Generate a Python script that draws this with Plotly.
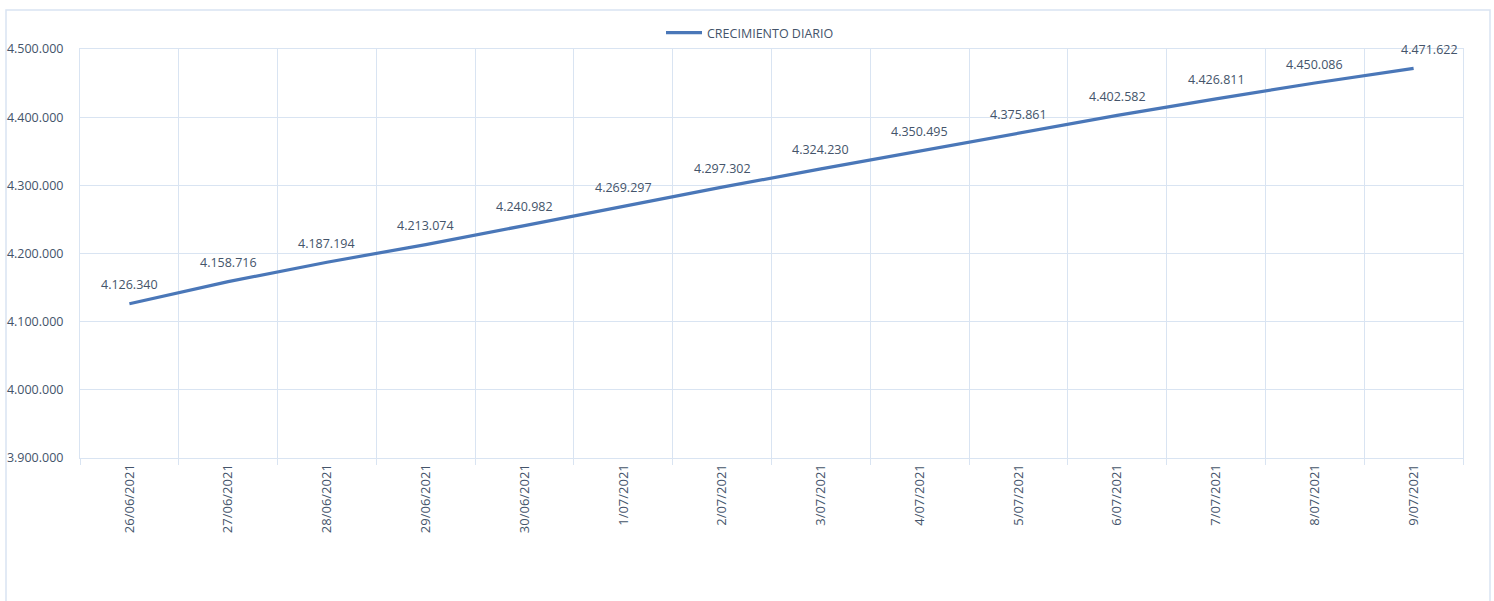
import plotly.graph_objects as go

fechas = ["26/06/2021", "27/06/2021", "28/06/2021", "29/06/2021", "30/06/2021",
          "1/07/2021", "2/07/2021", "3/07/2021", "4/07/2021", "5/07/2021",
          "6/07/2021", "7/07/2021", "8/07/2021", "9/07/2021"]
crecimiento = [4126340, 4158716, 4187194, 4213074, 4240982, 4269297, 4297302,
               4324230, 4350495, 4375861, 4402582, 4426811, 4450086, 4471622]
serie_nombre = "CRECIMIENTO DIARIO"
y_ticks = [3900000, 4000000, 4100000, 4200000, 4300000, 4400000, 4500000]

LINE = "#4A77B8"
TXT = "#44546A"
GRID = "#D9E4F2"
FONT = "Open Sans"

fig = go.Figure()
fig.add_trace(go.Scatter(
    x=fechas, y=crecimiento, mode="lines", name=serie_nombre,
    line=dict(color=LINE, width=3.2),
))

annotations = []
for i, (f, v) in enumerate(zip(fechas, crecimiento)):
    annotations.append(dict(
        x=f, y=v, xref="x", yref="y", showarrow=False,
        text=f"{v:,}".replace(",", "."),
        yshift=19, xshift=16 if i == len(fechas) - 1 else 0,
        font=dict(family=FONT, size=12.5, color=TXT),
    ))

L, R, T, B = 80, 31, 49, 143
W, H = 1494, 601
pw, ph = W - L - R, H - T - B

def px(x):
    return (x - L) / pw

def py(y):
    return (H - B - y) / ph

fig.update_layout(
    width=W, height=H,
    margin=dict(l=L, r=R, t=T, b=B, autoexpand=False),
    paper_bgcolor="white", plot_bgcolor="white",
    separators=",.",
    font=dict(family=FONT, color=TXT, size=12),
    showlegend=True,
    legend=dict(orientation="h", x=px(750), xanchor="center", y=py(33), yanchor="middle",
                font=dict(family=FONT, size=12.5, color=TXT), itemwidth=36,
                bgcolor="rgba(0,0,0,0)"),
    xaxis=dict(type="category", categoryorder="array", categoryarray=fechas,
               range=[-0.5, len(fechas) - 0.5], autorange=False, automargin=False,
               tickson="boundaries", showgrid=True, gridcolor=GRID,
               gridwidth=1, ticks="outside", ticklen=6, tickcolor=GRID,
               tickangle=-90, showline=True, linecolor=GRID, mirror=True,
               tickfont=dict(family=FONT, size=13, color=TXT)),
    yaxis=dict(range=[3900000, 4500000], autorange=False, automargin=False,
               tickvals=y_ticks, tickformat=",d",
               showgrid=True, gridcolor=GRID, gridwidth=1, zeroline=False,
               showline=True, linecolor=GRID, mirror=True, ticks="",
               ticklabelstandoff=13,
               tickfont=dict(family=FONT, size=12.5, color=TXT)),
    annotations=annotations,
    shapes=[dict(type="rect", xref="paper", yref="paper",
                 x0=px(6), x1=px(1490), y0=py(640), y1=py(10),
                 line=dict(color=GRID, width=1.5), layer="below")],
)

fig.write_html("out.html", config={"displayModeBar": False},
               post_script="document.body.style.margin='0';document.body.style.overflow='hidden';")
